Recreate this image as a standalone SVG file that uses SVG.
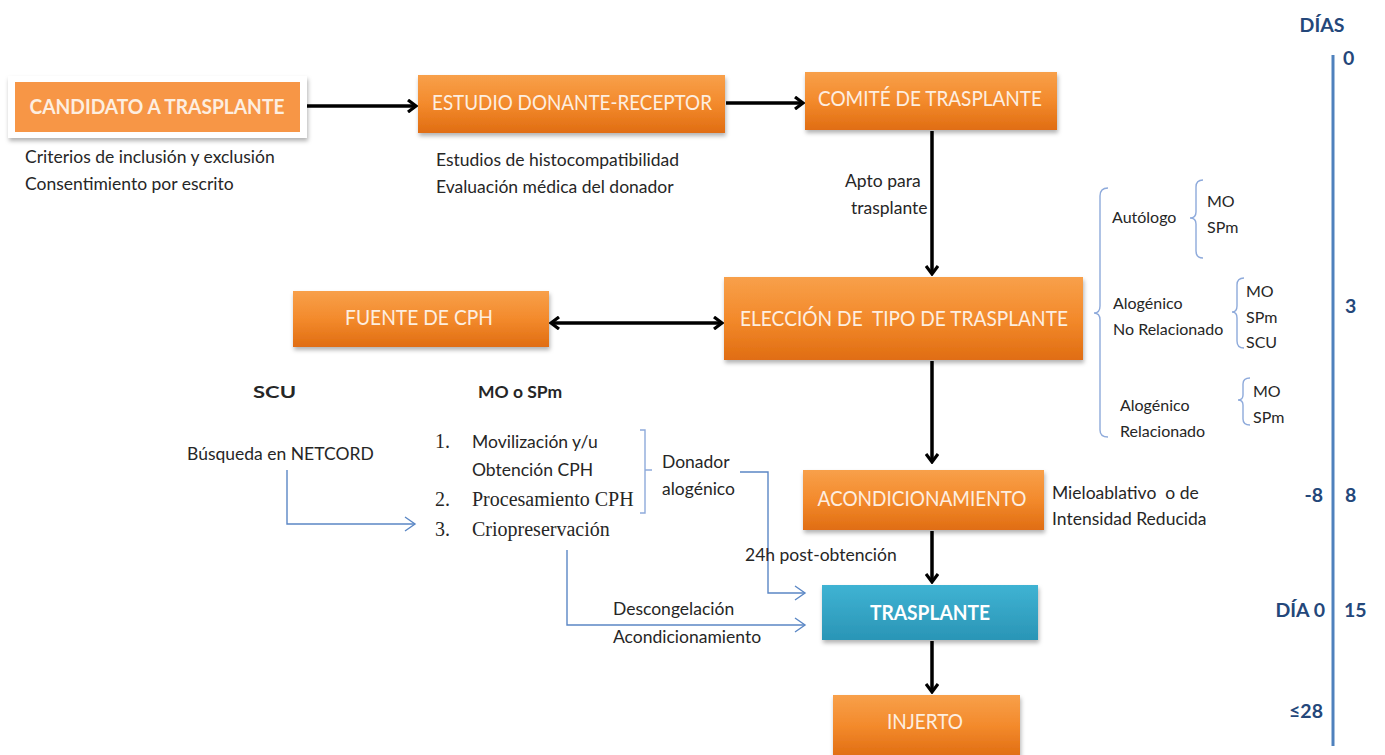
<svg xmlns="http://www.w3.org/2000/svg" width="1385" height="755" viewBox="0 0 1385 755">
<style>
.bx{fill:url(#og);}
.bl{font-family:Lato,"Liberation Sans",sans-serif;font-size:21px;fill:#fdeee0;text-anchor:middle;}
.t{font-family:Lato,"Liberation Sans",sans-serif;font-size:17.5px;fill:#262626;}
.r{font-family:Lato,"Liberation Sans",sans-serif;font-size:16px;fill:#262626;}
.s{font-family:"Liberation Serif",serif;font-size:20px;fill:#262626;}
.k{stroke:#000;stroke-width:3.5;fill:none;}
.b{stroke:#5b87c5;stroke-width:1.4;fill:none;}
.br{stroke:#8eaadb;stroke-width:1.4;fill:none;}
.d{font-family:Lato,"Liberation Sans",sans-serif;font-size:19.5px;font-weight:bold;fill:#24477a;}
</style>
<defs>
<linearGradient id="og" x1="0" y1="0" x2="0" y2="1">
<stop offset="0" stop-color="#f8a04a"/>
<stop offset="0.5" stop-color="#f38a2c"/>
<stop offset="1" stop-color="#e06d12"/>
</linearGradient>
<linearGradient id="bg" x1="0" y1="0" x2="0" y2="1">
<stop offset="0" stop-color="#3fb3d3"/>
<stop offset="1" stop-color="#2a95b6"/>
</linearGradient>
<filter id="sh" x="-10%" y="-20%" width="120%" height="150%">
<feDropShadow dx="1" dy="3" stdDeviation="2" flood-color="#000" flood-opacity="0.3"/>
</filter>
<marker id="ak" markerWidth="12" markerHeight="14" refX="10" refY="7" orient="auto" markerUnits="userSpaceOnUse">
<path d="M2,1 L10,7 L2,13" fill="none" stroke="#000" stroke-width="3.2"/>
</marker>
<marker id="aks" markerWidth="12" markerHeight="14" refX="10" refY="7" orient="auto-start-reverse" markerUnits="userSpaceOnUse">
<path d="M2,1 L10,7 L2,13" fill="none" stroke="#000" stroke-width="3.2"/>
</marker>
<marker id="ab" markerWidth="14" markerHeight="16" refX="12" refY="8" orient="auto" markerUnits="userSpaceOnUse">
<path d="M2,1 L12,8 L2,15" fill="none" stroke="#5b87c5" stroke-width="1.4"/>
</marker>
</defs>

<g id="connectors">
<line class="k" x1="301" y1="106" x2="416" y2="106" marker-end="url(#ak)"/>
<line class="k" x1="726" y1="103" x2="803" y2="103" marker-end="url(#ak)"/>
<line class="k" x1="932" y1="131" x2="932" y2="274" marker-end="url(#ak)"/>
<line class="k" x1="551" y1="323" x2="722" y2="323" marker-start="url(#aks)" marker-end="url(#ak)"/>
<line class="k" x1="932" y1="361" x2="932" y2="462" marker-end="url(#ak)"/>
<line class="k" x1="932" y1="531" x2="932" y2="582" marker-end="url(#ak)"/>
<line class="k" x1="932" y1="641" x2="932" y2="692" marker-end="url(#ak)"/>
<polyline class="b" points="287,470 287,524 415,524" marker-end="url(#ab)"/>
<polyline class="b" points="740,472 768,472 768,593 805,593" marker-end="url(#ab)"/>
<polyline class="b" points="567,550 567,625 805,625" marker-end="url(#ab)"/>
</g>

<g id="candidato">
<rect x="8" y="76" width="299" height="62" fill="#fff" filter="url(#sh)"/>
<rect x="15" y="82" width="285" height="50" fill="#f79646"/>
<text class="bl" x="157" y="114" font-weight="bold" textLength="255" lengthAdjust="spacingAndGlyphs">CANDIDATO A TRASPLANTE</text>
<text class="t" x="25" y="163" font-size="18.4">Criterios de inclusión y exclusión</text>
<text class="t" x="25" y="190" font-size="18.4">Consentimiento por escrito</text>
</g>

<g id="estudio">
<rect class="bx" x="418" y="75" width="307" height="58" filter="url(#sh)"/>
<text class="bl" x="572" y="110" textLength="280" lengthAdjust="spacingAndGlyphs">ESTUDIO DONANTE-RECEPTOR</text>
<text class="t" x="436" y="166" font-size="18.4">Estudios de histocompatibilidad</text>
<text class="t" x="436" y="193" font-size="18.4">Evaluación médica del donador</text>
</g>

<g id="comite">
<rect class="bx" x="805" y="72" width="252" height="58" filter="url(#sh)"/>
<text class="bl" x="930" y="106" textLength="224" lengthAdjust="spacingAndGlyphs">COMITÉ DE TRASPLANTE</text>
<text class="t" x="845" y="187">Apto para</text>
<text class="t" x="851" y="214">trasplante</text>
</g>

<g id="eleccion">
<rect class="bx" x="724" y="277" width="359" height="83" filter="url(#sh)"/>
<text class="bl" x="904" y="326" xml:space="preserve" textLength="328" lengthAdjust="spacingAndGlyphs">ELECCIÓN DE  TIPO DE TRASPLANTE</text>
</g>

<g id="fuente">
<rect class="bx" x="293" y="291" width="256" height="56" filter="url(#sh)"/>
<text class="bl" x="419" y="325" textLength="148" lengthAdjust="spacingAndGlyphs">FUENTE DE CPH</text>
</g>

<g id="tipos">
<path class="br" d="M1108,188 Q1100,188 1100,196 L1100,306 Q1100,313 1094,313 Q1100,313 1100,320 L1100,430 Q1100,437 1108,437"/>
<text class="r" x="1112" y="223">Autólogo</text>
<path class="br" d="M1203,180 Q1196,180 1196,187 L1196,212 Q1196,218 1190,218 Q1196,218 1196,224 L1196,251 Q1196,258 1203,258"/>
<text class="r" x="1207" y="207">MO</text>
<text class="r" x="1207" y="233">SPm</text>
<text class="r" x="1113" y="309">Alogénico</text>
<text class="r" x="1113" y="335">No Relacionado</text>
<path class="br" d="M1244,278 Q1237,278 1237,285 L1237,306 Q1237,312 1232,312 Q1237,312 1237,318 L1237,341 Q1237,348 1244,348"/>
<text class="r" x="1246" y="297">MO</text>
<text class="r" x="1246" y="323">SPm</text>
<text class="r" x="1246" y="348">SCU</text>
<text class="r" x="1120" y="411">Alogénico</text>
<text class="r" x="1120" y="437">Relacionado</text>
<path class="br" d="M1250,378 Q1243,378 1243,384 L1243,395 Q1243,400 1238,400 Q1243,400 1243,405 L1243,419 Q1243,425 1250,425"/>
<text class="r" x="1253" y="397">MO</text>
<text class="r" x="1253" y="423">SPm</text>
</g>

<g id="fuentes-detalle">
<text class="t" x="253" y="398" font-size="19" font-weight="bold" textLength="43" lengthAdjust="spacingAndGlyphs">SCU</text>
<text class="t" x="478" y="398" font-size="18.5" font-weight="bold">MO o SPm</text>
<text class="t" x="187" y="460" font-size="17.8">Búsqueda en NETCORD</text>
<text class="s" x="435" y="448">1.</text>
<text class="t" x="472" y="448" font-size="19.5">Movilización y/u</text>
<text class="t" x="472" y="476" font-size="19.5">Obtención CPH</text>
<text class="s" x="435" y="506">2.</text>
<text class="s" x="472" y="506">Procesamiento CPH</text>
<text class="s" x="435" y="536">3.</text>
<text class="s" x="472" y="536">Criopreservación</text>
<path class="br" d="M640,430 L645,430 L645,470 L652,470 M645,470 L645,513 L640,513"/>
<text class="t" x="662" y="468" font-size="16.5">Donador</text>
<text class="t" x="662" y="495" font-size="16.5">alogénico</text>
<text class="t" x="745" y="561" font-size="16.5">24h post-obtención</text>
<text class="t" x="613" y="615" font-size="18.3">Descongelación</text>
<text class="t" x="613" y="643" font-size="18.3">Acondicionamiento</text>
</g>

<g id="acondicionamiento">
<rect class="bx" x="803" y="470" width="241" height="60" filter="url(#sh)"/>
<text class="bl" x="922" y="506" textLength="209" lengthAdjust="spacingAndGlyphs">ACONDICIONAMIENTO</text>
<text class="t" x="1052" y="499" xml:space="preserve">Mieloablativo  o de</text>
<text class="t" x="1052" y="525">Intensidad Reducida</text>
</g>

<g id="trasplante">
<rect x="822" y="585" width="216" height="55" fill="url(#bg)" filter="url(#sh)"/>
<text class="bl" x="930" y="620" font-weight="bold" style="fill:#ffffff" textLength="120" lengthAdjust="spacingAndGlyphs">TRASPLANTE</text>
</g>

<g id="injerto">
<rect class="bx" x="833" y="695" width="187" height="62" filter="url(#sh)"/>
<text class="bl" x="925" y="729" textLength="76" lengthAdjust="spacingAndGlyphs">INJERTO</text>
</g>

<g id="timeline">
<line x1="1333" y1="55" x2="1333" y2="746" stroke="#4f81bd" stroke-width="3"/>
<text class="d" x="1322" y="32" text-anchor="middle">DÍAS</text>
<text class="d" x="1343" y="65">0</text>
<text class="d" x="1345" y="313">3</text>
<text class="d" x="1323" y="502" text-anchor="end">-8</text>
<text class="d" x="1345" y="502">8</text>
<text class="d" x="1325" y="617" text-anchor="end">DÍA 0</text>
<text class="d" x="1344" y="617">15</text>
<text class="d" x="1323" y="718" text-anchor="end">≤28</text>
</g>
</svg>
